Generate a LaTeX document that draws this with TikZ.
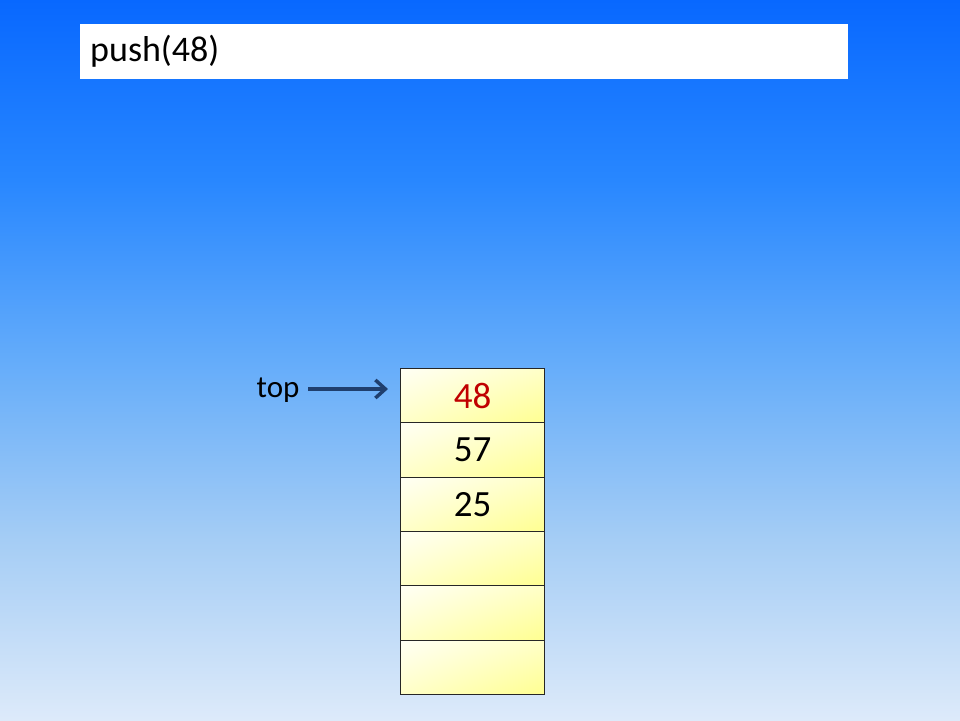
\documentclass[tikz,border=0pt]{standalone}
\usepackage{fontspec}
\setmainfont{Carlito}
\usetikzlibrary{arrows.meta,shadings}
\definecolor{bg0}{RGB}{221,234,250}
\definecolor{bg1}{RGB}{165,205,245}
\definecolor{bg2}{RGB}{100,172,250}
\definecolor{bg3}{RGB}{40,135,255}
\definecolor{bg4}{RGB}{8,104,255}
\definecolor{cellyel}{RGB}{255,255,145}
\definecolor{cellmid}{RGB}{255,255,200}
\definecolor{cellwhite}{RGB}{255,255,245}
\definecolor{arrowblue}{RGB}{31,63,110}
\definecolor{numred}{RGB}{192,0,0}
\pgfdeclareverticalshading{bgshade}{100bp}{color(0bp)=(bg0); color(25bp)=(bg0); color(37.5bp)=(bg1); color(50bp)=(bg2); color(62.5bp)=(bg3); color(75bp)=(bg4); color(100bp)=(bg4)}
\begin{document}
\begin{tikzpicture}[x=1pt,y=-1pt,
  cell/.style={draw=black!85, line width=1pt, minimum width=144pt, minimum height=54.33pt,
    inner sep=0pt, upper left=cellwhite, upper right=cellmid, lower left=cellmid, lower right=cellyel,
    font=\fontsize{37}{44}\selectfont, anchor=north west},
  title/.style={fill=white, minimum width=768pt, minimum height=55pt, inner sep=0pt, anchor=north west},
  lbl/.style={font=\fontsize{31}{36}\selectfont, inner sep=0pt, anchor=base},
  ptr/.style={draw=arrowblue, line width=3.5pt, -{Straight Barb[length=10pt,width=18pt,line width=3.5pt]}}]
\useasboundingbox (0,0) rectangle (960,720);
\shade[shading=bgshade] (0,0) rectangle (960,720);
\node[title] (titlebox) at (80,24) {};
\node[anchor=west, inner sep=0pt, font=\fontsize{36}{42}\selectfont] (titletext) at (90,51.5) {push(48)};
\node[cell] (c1) at (400,368) {\textcolor{numred}{48}};
\node[cell] (c2) at (400,422.33) {57};
\node[cell] (c3) at (400,476.67) {25};
\node[cell] (c4) at (400,531) {};
\node[cell] (c5) at (400,585.33) {};
\node[cell] (c6) at (400,639.67) {};
\node[lbl] (toplbl) at (278,397) {top};
\coordinate (ptrstart) at (308,389);
\coordinate (ptrend) at (388,389);
\draw[ptr] (ptrstart) -- (ptrend);
\end{tikzpicture}
\end{document}
